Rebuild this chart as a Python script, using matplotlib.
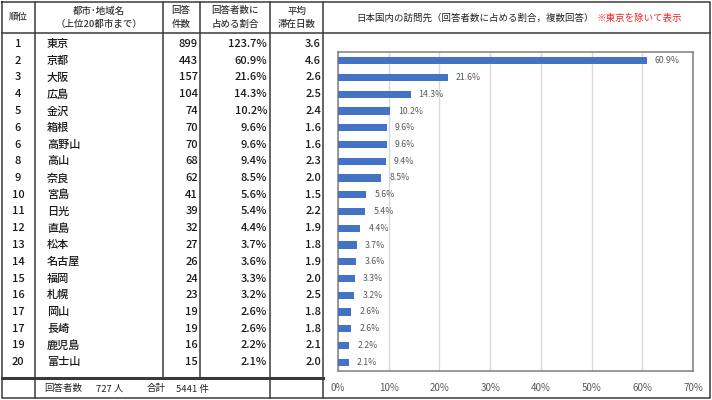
import matplotlib
matplotlib.use("Agg")
import matplotlib.pyplot as plt
from matplotlib.ticker import FuncFormatter

plt.rcParams['font.family'] = ['Noto Sans CJK JP', 'DejaVu Sans']

# data
ranks = [1, 2, 3, 4, 5, 6, 6, 8, 9, 10, 11, 12, 13, 14, 15, 16, 17, 17, 19, 20]
names = ["東京", "京都", "大阪", "広島", "金沢", "箱根", "高野山", "高山", "奈良", "宮島",
         "日光", "直島", "松本", "名古屋", "福岡", "札幌", "岡山", "長崎", "鹿児島", "富士山"]
counts = [899, 443, 157, 104, 74, 70, 70, 68, 62, 41, 39, 32, 27, 26, 24, 23, 19, 19, 16, 15]
shares = [123.7, 60.9, 21.6, 14.3, 10.2, 9.6, 9.6, 9.4, 8.5, 5.6,
          5.4, 4.4, 3.7, 3.6, 3.3, 3.2, 2.6, 2.6, 2.2, 2.1]
days = [3.6, 4.6, 2.6, 2.5, 2.4, 1.6, 1.6, 2.3, 2.0, 1.5,
        2.2, 1.9, 1.8, 1.9, 2.0, 2.5, 1.8, 1.8, 2.1, 2.0]
respondents = 727
total = 5441
x_ticks = [0, 10, 20, 30, 40, 50, 60, 70]

W, H = 712, 400
fig = plt.figure(figsize=(W / 100, H / 100), dpi=100)

# table layer in pixel coordinates
ax = fig.add_axes([0, 0, 1, 1])
ax.set_xlim(0, W)
ax.set_ylim(H, 0)
ax.axis("off")

row0, row_h = 44, 16.75
line_kw = dict(color="#3a3a3a", lw=1.1)

# frame and grid lines
ax.plot([2, 710, 710, 2, 2], [2, 2, 398, 398, 2], **line_kw)
ax.plot([2, 710], [33, 33], **line_kw)
ax.plot([2, 323], [378, 378], color="#3a3a3a", lw=2.2)
for xv in [35, 270, 323]:
    ax.plot([xv, xv], [2, 398], **line_kw)
for xv in [163, 200]:
    ax.plot([xv, xv], [2, 378], **line_kw)

hdr = dict(fontsize=6.8, color="#333333", ha="center", va="center", fontweight="medium")
ax.text(18, 17, "順位", **hdr)
ax.text(99, 11, "都市･地域名", **hdr)
ax.text(99, 24, "（上位20都市まで）", **hdr)
ax.text(181, 11, "回答", **hdr)
ax.text(181, 24, "件数", **hdr)
ax.text(235, 11, "回答者数に", **hdr)
ax.text(235, 24, "占める割合", **hdr)
ax.text(297, 11, "平均", **hdr)
ax.text(297, 24, "滞在日数", **hdr)

ax.text(594, 18, "日本国内の訪問先（回答者数に占める割合，複数回答）",
        fontsize=6.8, color="#222222", ha="right", va="center")
ax.text(597, 18, "※東京を除いて表示", fontsize=6.8, color="#e8251f",
        ha="left", va="center")

cell = dict(fontsize=8, color="#1a1a1a", va="center", fontweight="medium")
for i in range(len(names)):
    y = row0 + i * row_h
    ax.text(18, y, str(ranks[i]), ha="center", **cell)
    ax.text(47, y, names[i], ha="left", **cell)
    ax.text(198, y, str(counts[i]), ha="right", **cell)
    ax.text(267, y, f"{shares[i]:.1f}%", ha="right", **cell)
    ax.text(321, y, f"{days[i]:.1f}", ha="right", **cell)

foot = dict(fontsize=6.8, color="#222222", va="center")
ax.text(44, 389, "回答者数", ha="left", **foot)
ax.text(96, 389, f"{respondents} 人", ha="left", **foot)
ax.text(147, 389, "合計", ha="left", **foot)
ax.text(176, 389, f"{total} 件", ha="left", **foot)

# bar chart (Tokyo excluded)
bar_names = names[1:]
bar_vals = shares[1:]
top_px = row0 + row_h - row_h / 2
bot_px = row0 + (len(names) - 1) * row_h + row_h / 2
left_px, right_px = 338, 693
bx = fig.add_axes([left_px / W, 1 - bot_px / H,
                   (right_px - left_px) / W, (bot_px - top_px) / H])
pos = list(range(len(bar_names)))
bx.barh(pos, bar_vals, height=0.42, color="#4472c4", zorder=3)
for p, v in zip(pos, bar_vals):
    bx.text(v + 1.6, p, f"{v:.1f}%", fontsize=6.3, color="#595959",
            ha="left", va="center")
bx.set_ylim(len(bar_names) - 0.5, -0.5)
bx.set_xlim(0, 70)
bx.set_xticks(x_ticks)
bx.xaxis.set_major_formatter(FuncFormatter(lambda v, _: f"{v:.0f}%"))
bx.set_yticks([])
bx.tick_params(axis="x", length=0, labelsize=7, labelcolor="#595959", pad=9)
bx.grid(axis="x", color="#d9d9d9", lw=1, zorder=0)
for s in bx.spines.values():
    s.set_color("#7f7f7f")
    s.set_linewidth(1.1)

fig.savefig("out.png", dpi=100)
